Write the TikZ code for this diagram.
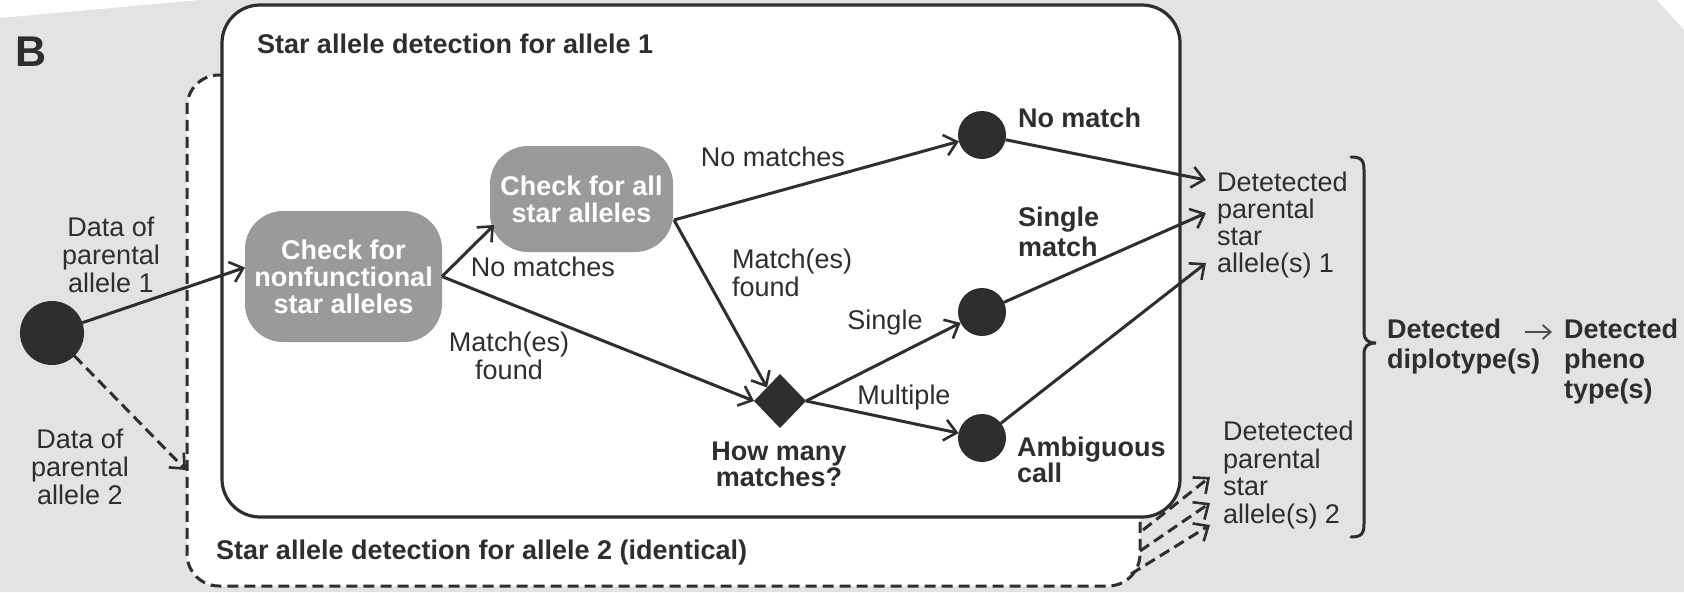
\documentclass[tikz,border=0pt]{standalone}
\usepackage{fontspec}
\setmainfont{Liberation Sans}
\usetikzlibrary{arrows.meta,shapes.geometric,calc}
\definecolor{bg}{HTML}{E3E3E3}
\definecolor{ink}{HTML}{2E2E2E}
\definecolor{boxgray}{HTML}{9A9A9A}
\begin{document}
\begin{tikzpicture}[x=1pt,y=-1pt,
  every node/.style={inner sep=0pt, outer sep=0pt},
  rtxt/.style={font=\fontsize{27}{28}\selectfont, text=ink, align=center},
  btxt/.style={font=\fontsize{27}{28}\selectfont\bfseries, text=ink, align=center},
  gbox/.style={rectangle, rounded corners=38pt, fill=boxgray, text=white,
    font=\fontsize{27}{27}\selectfont\bfseries, align=center},
  dot/.style={circle, fill=ink},
  arr/.style={draw=ink, line width=3pt, -{Straight Barb[length=12pt,width=21pt,line width=2.6pt]}},
  darr/.style={arr, dash pattern=on 11pt off 6pt},
  thinarr/.style={draw=ink!85, line width=1.8pt, -{Straight Barb[length=8pt,width=14pt,line width=1.8pt]}},
  frame/.style={rectangle, draw=ink, line width=3.2pt, fill=white, rounded corners=38pt},
  dframe/.style={rectangle, draw=ink, line width=3pt, fill=white, rounded corners=32pt, dash pattern=on 11pt off 6pt}
]
\useasboundingbox (0,0) rectangle (1684,592);
\fill[white] (0,0) rectangle (1684,592);
\fill[bg] (0,18) -- (200,0) -- (1657,0) -- (1684,30) -- (1684,592) -- (0,592) -- cycle;

% frames
\node[dframe, minimum width=953pt, minimum height=511pt] (box2) at (663.5,330.5) {};
\node[frame, minimum width=958pt, minimum height=512pt] (box1) at (701,261) {};

\node[font=\fontsize{43}{43}\selectfont\bfseries, text=ink] (B) at (31,52) {B};
\node[btxt, anchor=west] (t1) at (257,44) {Star allele detection for allele 1};
\node[btxt, anchor=west] (t2) at (216,553) {Star allele detection for allele 2 (identical)};

% start
\node[dot, minimum size=64pt] (start) at (52,333) {};
\node[rtxt] (d1) at (111,255) {Data of\\parental\\allele 1};
\node[rtxt] (d2) at (80,467) {Data of\\parental\\allele 2};
\coordinate (d2in) at (186,470);

% process boxes
\node[gbox, minimum width=197pt, minimum height=131pt] (nonfunc) at (343.5,276.5) {Check for\\nonfunctional\\star alleles};
\node[gbox, minimum width=183pt, minimum height=106pt] (checkall) at (581.5,199) {Check for all\\star alleles};

% decision and end states
\node[diamond, fill=ink, minimum width=52pt, minimum height=54pt] (dia) at (780,401) {};
\node[dot, minimum size=48pt] (nomatch) at (982,135) {};
\node[dot, minimum size=48pt] (single) at (982,312) {};
\node[dot, minimum size=48pt] (ambig) at (982,438) {};

% labels
\node[rtxt] (l1) at (543,267) {No matches};
\node[rtxt] (l2) at (509,356) {Match(es)\\found};
\node[rtxt] (l3) at (773,157) {No matches};
\node[rtxt, align=left, anchor=west] (l4) at (732,272.5) {Match(es)\\found};
\node[rtxt] (l5) at (885,323) {Single};
\node[rtxt] (l6) at (904,398) {Multiple};
\node[btxt, font=\fontsize{27}{26}\selectfont\bfseries] (l7) at (779,464.5) {How many\\matches?};
\node[btxt, anchor=west] (l8) at (1018,118) {No match};
\node[btxt, align=left, anchor=west, font=\fontsize{27}{30}\selectfont\bfseries] (l9) at (1018,232) {Single\\match};
\node[btxt, align=left, anchor=west, font=\fontsize{27}{26}\selectfont\bfseries] (l10) at (1017,460) {Ambiguous\\call};

% results
\node[rtxt, align=left, anchor=west, font=\fontsize{27}{27}\selectfont] (det1) at (1217,225) {Detetected\\parental\\star\\allele(s) 1};
\node[rtxt, align=left, anchor=west, font=\fontsize{27}{27.5}\selectfont] (det2) at (1223,475) {Detetected\\parental\\star\\allele(s) 2};
\node[btxt, align=left, anchor=west, font=\fontsize{27}{30}\selectfont\bfseries] (diplo) at (1387,347) {Detected\\diplotype(s)};
\node[btxt, align=left, anchor=west, font=\fontsize{27}{30}\selectfont\bfseries] (pheno) at (1564,362) {Detected\\pheno\\type(s)};

\coordinate (cko) at ($(checkall.east)+(1,21)$);
\coordinate (a1) at ($(det1.west)+(-11,-45)$);
\coordinate (a2) at ($(det1.west)+(-11,-12)$);
\coordinate (a3) at ($(det1.west)+(-11,38)$);
\coordinate (b1) at ($(det2.west)+(-13,2)$);
\coordinate (b2) at ($(det2.west)+(-13,28)$);
\coordinate (b3) at ($(det2.west)+(-13,50)$);
\coordinate (c1) at (1143,530);
\coordinate (c2) at (1140,551);
\coordinate (c3) at (1131,574);

% connectors
\draw[arr] (start) -- ($(nonfunc.west)+(0,-9)$);
\draw[darr] (start) -- (d2in);
\draw[arr] (nonfunc.east) -- ($(checkall.south west)+(4,-27)$);
\draw[arr] (nonfunc.east) -- (dia.west);
\draw[arr] (cko) -- (nomatch);
\draw[arr] (cko) -- (dia.north west);
\draw[arr] (dia.east) -- (single);
\draw[arr] (dia.east) -- (ambig);
\draw[arr] (nomatch) -- (a1);
\draw[arr] (single) -- (a2);
\draw[arr] (ambig) -- (a3);
\draw[darr] (c1) -- (b1);
\draw[darr] (c2) -- (b2);
\draw[darr] (c3) -- (b3);

% brace
\draw[ink, line width=3pt, line cap=round]
  (1351,157) .. controls (1361,157) and (1364,160) .. (1364,170)
  -- (1364,332) .. controls (1364,340) and (1368,343) .. (1376,343)
  .. controls (1368,343) and (1364,346) .. (1364,354)
  -- (1364,524) .. controls (1364,534) and (1361,537) .. (1351,537);

\draw[thinarr] ($(pheno.west)+(-39,-30)$) -- ($(pheno.west)+(-12,-30)$);
\end{tikzpicture}
\end{document}
